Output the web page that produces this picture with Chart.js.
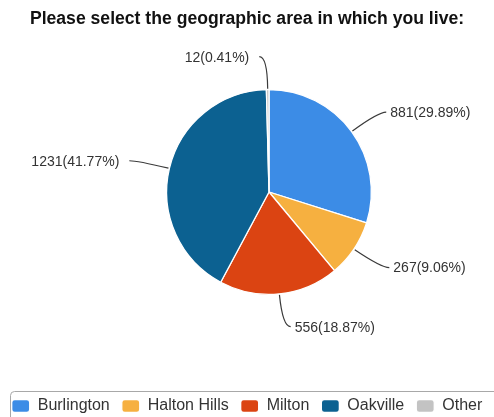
<!DOCTYPE html>
<html>
<head>
<meta charset="utf-8">
<script src="https://cdn.jsdelivr.net/npm/chart.js@4.4.0/dist/chart.umd.min.js"></script>
<style>
  html, body { margin: 0; padding: 0; background: #fff; }
  #wrap { width: 494px; height: 417px; position: relative; }
</style>
</head>
<body>
<div id="wrap"><canvas id="c" width="494" height="417"></canvas></div>
<script>
const categories = ['Burlington', 'Halton Hills', 'Milton', 'Oakville', 'Other'];
const counts = [881, 267, 556, 1231, 12];
const percentLabels = ['29.89%', '9.06%', '18.87%', '41.77%', '0.41%'];
const sliceColors = ['#3c8ce6', '#f6b040', '#db4412', '#0c6191', '#c3c3c3'];
const titleText = 'Please select the geographic area in which you live:';

const FONT = 'Arial, "Liberation Sans", sans-serif';

const placePie = {
  id: 'placePie',
  afterLayout(chart) {
    const a = chart.chartArea;
    const cx = 269, cy = 192, r = 103;
    a.left = cx - r; a.right = cx + r; a.top = cy - r; a.bottom = cy + r;
    a.width = 2 * r; a.height = 2 * r;
  }
};

const leaderLabels = {
  id: 'leaderLabels',
  afterDatasetsDraw(chart) {
    const ctx = chart.ctx;
    const meta = chart.getDatasetMeta(0);
    ctx.save();
    ctx.font = '14px ' + FONT;
    ctx.textBaseline = 'middle';
    meta.data.forEach((arc, i) => {
      const {x, y, startAngle, endAngle, outerRadius} = arc.getProps(['x','y','startAngle','endAngle','outerRadius'], true);
      const mid = (startAngle + endAngle) / 2;
      const cos = Math.cos(mid), sin = Math.sin(mid);
      const p0 = {x: x + cos * (outerRadius + 1), y: y + sin * (outerRadius + 1)};
      const p1 = {x: x + cos * (outerRadius + 33), y: y + sin * (outerRadius + 33)};
      const right = cos >= 0;
      const dir = right ? 1 : -1;
      const p2 = {x: p1.x + dir * 8, y: p1.y};
      ctx.strokeStyle = '#3a3a3a';
      ctx.lineWidth = 1.2;
      ctx.beginPath();
      ctx.moveTo(p0.x, p0.y);
      ctx.quadraticCurveTo(p1.x, p1.y, p2.x, p2.y);
      ctx.stroke();
      ctx.fillStyle = '#333';
      ctx.textAlign = right ? 'left' : 'right';
      const txt = counts[i] + '(' + percentLabels[i] + ')';
      ctx.fillText(txt, p2.x + dir * (right ? 4 : 10), p2.y + 1);
    });
    ctx.restore();
  }
};

const legendFrame = {
  id: 'legendFrame',
  afterDraw(chart) {
    const ctx = chart.ctx;
    const top = 391, left = 10, right = 500, bottom = 420, rad = 4;
    ctx.save();
    ctx.strokeStyle = '#a8a8a8';
    ctx.lineWidth = 1;
    ctx.beginPath();
    ctx.moveTo(right, top + 0.5);
    ctx.lineTo(left + 0.5 + rad, top + 0.5);
    ctx.arcTo(left + 0.5, top + 0.5, left + 0.5, top + 0.5 + rad, rad);
    ctx.lineTo(left + 0.5, bottom);
    ctx.stroke();
    ctx.restore();
  }
};

new Chart(document.getElementById('c'), {
  type: 'pie',
  data: {
    labels: categories,
    datasets: [{
      data: counts,
      backgroundColor: sliceColors,
      borderColor: '#ffffff',
      borderWidth: 1.3
    }]
  },
  options: {
    responsive: false,
    animation: false,
    layout: { padding: { top: 0, bottom: -7, left: -12, right: -12 } },
    plugins: {
      title: {
        display: true,
        text: titleText,
        color: '#111',
        font: { family: FONT, size: 17.6, weight: 'bold' },
        padding: { top: 9, bottom: 8 }
      },
      legend: {
        display: true,
        position: 'bottom',
        labels: {
          color: '#333',
          font: { family: FONT, size: 16 },
          boxWidth: 18,
          boxHeight: 13,
          useBorderRadius: true,
          borderRadius: 3,
          padding: 12
        }
      },
      tooltip: { enabled: false }
    }
  },
  plugins: [placePie, leaderLabels, legendFrame]
});
</script>
</body>
</html>
